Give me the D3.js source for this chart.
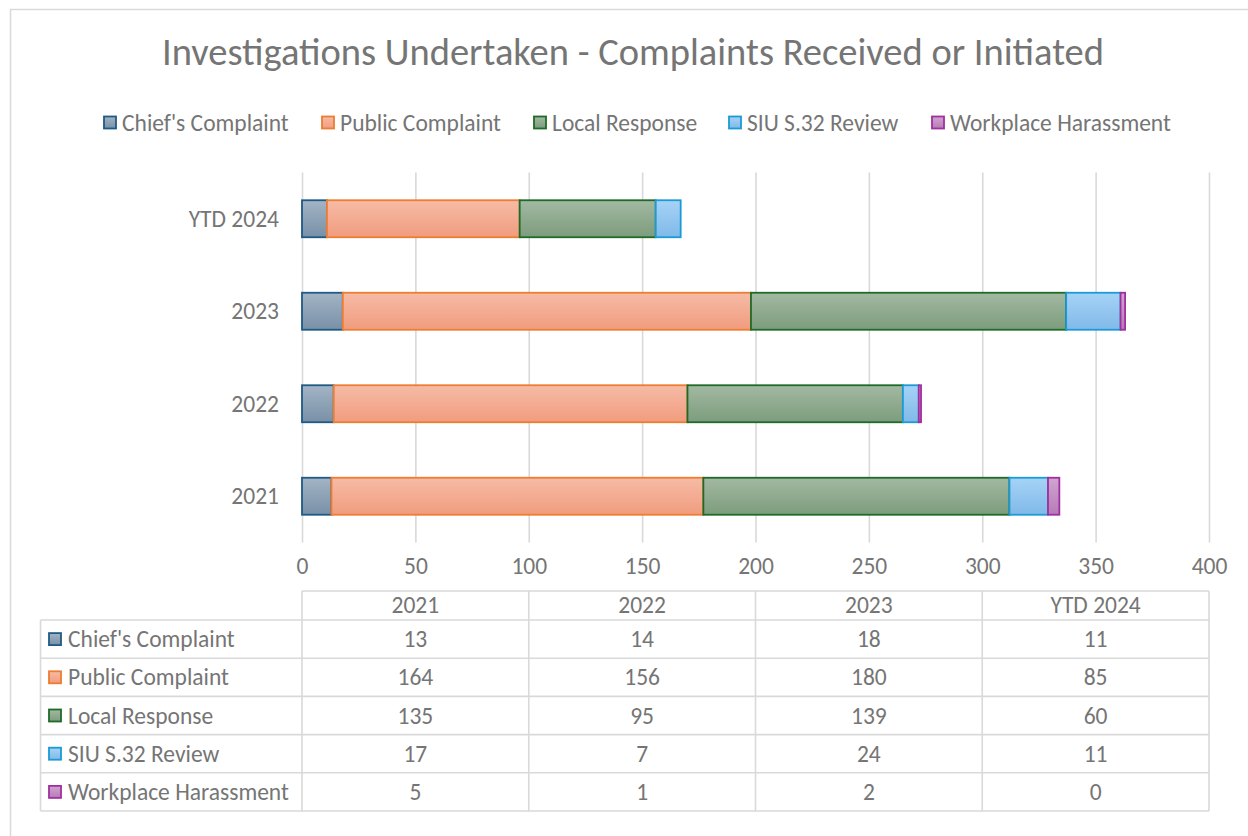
<!DOCTYPE html>
<html>
<head>
<meta charset="utf-8">
<script src="https://cdn.jsdelivr.net/npm/d3@7"></script>
<style>
  body { margin: 0; background: #fff; }
  svg { display: block; font-family: Carlito, Lato, "Liberation Sans", sans-serif; }
</style>
</head>
<body>
<div id="chart"></div>
<script>
// data
const years = ["2021", "2022", "2023", "YTD 2024"]
const seriesNames = ["Chief's Complaint", "Public Complaint", "Local Response", "SIU S.32 Review", "Workplace Harassment"]
const chiefs = [13, 14, 18, 11]
const publicComplaint = [164, 156, 180, 85]
const localResponse = [135, 95, 139, 60]
const siuReview = [17, 7, 24, 11]
const workplace = [5, 1, 2, 0]
const xTicks = [0, 50, 100, 150, 200, 250, 300, 350, 400]

const seriesValues = [chiefs, publicComplaint, localResponse, siuReview, workplace]
const colors = [
  { top: "#a3b4c5", bottom: "#7890a7", stroke: "#1f5a84" },
  { top: "#f6bba6", bottom: "#f19c7e", stroke: "#ed7d31" },
  { top: "#a2b9a2", bottom: "#7d9c7d", stroke: "#1e6b28" },
  { top: "#a6d3f7", bottom: "#80b9e8", stroke: "#1b9ad6" },
  { top: "#d0a5d0", bottom: "#b77ab7", stroke: "#a02fa0" }
]
const textColor = "#757575"
const gridColor = "#d9d9d9"
const fs = "23.5px"

const width = 1248, height = 836
const plot = { left: 302, right: 1209, top: 172.5, bottom: 542.5 }

const svg = d3.select("#chart").append("svg")
  .attr("width", width)
  .attr("height", height)

const defs = svg.append("defs")
colors.forEach((c, i) => {
  const g = defs.append("linearGradient")
    .attr("id", `grad${i}`)
    .attr("x1", 0).attr("y1", 0).attr("x2", 0).attr("y2", 1)
  g.append("stop").attr("offset", "0%").attr("stop-color", c.top)
  g.append("stop").attr("offset", "100%").attr("stop-color", c.bottom)
})

// outer frame
svg.append("rect")
  .attr("x", 10.5).attr("y", 9.5)
  .attr("width", 1300).attr("height", 900)
  .attr("fill", "none")
  .attr("stroke", gridColor)
  .attr("stroke-width", 1.5)

svg.append("text")
  .attr("x", 633).attr("y", 65)
  .attr("text-anchor", "middle")
  .attr("fill", textColor)
  .style("font-size", "38.5px")
  .text("Investigations Undertaken - Complaints Received or Initiated")

// legend
const legendX = [104, 322, 534, 729, 932]
const legend = svg.append("g")
legendX.forEach((lx, i) => {
  legend.append("rect")
    .attr("x", lx).attr("y", 116.5)
    .attr("width", 12).attr("height", 12)
    .attr("fill", `url(#grad${i})`)
    .attr("stroke", colors[i].stroke)
    .attr("stroke-width", 1.8)
  legend.append("text")
    .attr("x", lx + 18).attr("y", 131)
    .attr("fill", textColor)
    .style("font-size", fs)
    .text(seriesNames[i])
})

const x = d3.scaleLinear().domain([0, 400]).range([plot.left, plot.right])
const y = d3.scaleBand()
  .domain(years.slice().reverse())
  .range([plot.top, plot.bottom])
  .paddingInner(0.6)
  .paddingOuter(0.3)

// gridlines + tick labels
const xAxis = svg.append("g")
  .attr("transform", `translate(0,${plot.bottom})`)
  .call(d3.axisBottom(x)
    .tickValues(xTicks)
    .tickSizeInner(-(plot.bottom - plot.top))
    .tickSizeOuter(0)
    .tickPadding(15))
xAxis.select(".domain").remove()
xAxis.selectAll(".tick line").attr("stroke", gridColor).attr("stroke-width", 1.6)
xAxis.selectAll(".tick text")
  .attr("fill", textColor)
  .style("font-size", fs)
  .style("font-family", "Carlito, Lato, 'Liberation Sans', sans-serif")

// category labels
svg.append("g").selectAll("text")
  .data(years)
  .join("text")
  .attr("x", 279)
  .attr("y", d => y(d) + y.bandwidth() / 2 + 8)
  .attr("text-anchor", "end")
  .attr("fill", textColor)
  .style("font-size", fs)
  .text(d => d)

// stacked bars
const rows = years.map((yr, j) => {
  const r = { year: yr }
  seriesNames.forEach((s, i) => { r[s] = seriesValues[i][j] })
  return r
})
const stacked = d3.stack().keys(seriesNames)(rows)

stacked.forEach((layer, i) => {
  svg.append("g").selectAll("rect")
    .data(layer.filter(d => d[1] > d[0]))
    .join("rect")
    .attr("x", d => x(d[0]))
    .attr("y", d => y(d.data.year))
    .attr("width", d => x(d[1]) - x(d[0]))
    .attr("height", y.bandwidth())
    .attr("fill", `url(#grad${i})`)
    .attr("stroke", colors[i].stroke)
    .attr("stroke-width", 1.8)
})

// data table
const colW = (plot.right - plot.left) / years.length
const tableTop = 591
const headerH = 29
const rowH = 38.2
const tableLeft = 40.5
const table = svg.append("g")
const lineAttrs = sel => sel.attr("stroke", gridColor).attr("stroke-width", 1.6)

// header row
table.append("line").attr("x1", plot.left).attr("x2", plot.right)
  .attr("y1", tableTop).attr("y2", tableTop).call(lineAttrs)
years.forEach((yr, j) => {
  table.append("text")
    .attr("x", plot.left + colW * (j + 0.5))
    .attr("y", tableTop + 22)
    .attr("text-anchor", "middle")
    .attr("fill", textColor)
    .style("font-size", fs)
    .text(yr)
})
const bodyTop = tableTop + headerH
const bodyBottom = bodyTop + rowH * seriesNames.length
for (let i = 0; i <= seriesNames.length; i++) {
  table.append("line").attr("x1", tableLeft).attr("x2", plot.right)
    .attr("y1", bodyTop + rowH * i).attr("y2", bodyTop + rowH * i).call(lineAttrs)
}
table.append("line").attr("x1", tableLeft).attr("x2", tableLeft)
  .attr("y1", bodyTop).attr("y2", bodyBottom).call(lineAttrs)
for (let j = 0; j <= years.length; j++) {
  table.append("line")
    .attr("x1", plot.left + colW * j).attr("x2", plot.left + colW * j)
    .attr("y1", tableTop).attr("y2", bodyBottom).call(lineAttrs)
}
seriesNames.forEach((s, i) => {
  const cy = bodyTop + rowH * (i + 0.5)
  table.append("rect")
    .attr("x", 49).attr("y", cy - 6)
    .attr("width", 12).attr("height", 12)
    .attr("fill", `url(#grad${i})`)
    .attr("stroke", colors[i].stroke)
    .attr("stroke-width", 1.8)
  table.append("text")
    .attr("x", 68).attr("y", cy + 8)
    .attr("fill", textColor)
    .style("font-size", fs)
    .text(s)
  seriesValues[i].forEach((v, j) => {
    table.append("text")
      .attr("x", plot.left + colW * (j + 0.5))
      .attr("y", cy + 8)
      .attr("text-anchor", "middle")
      .attr("fill", textColor)
      .style("font-size", fs)
      .text(v)
  })
})
</script>
</body>
</html>
